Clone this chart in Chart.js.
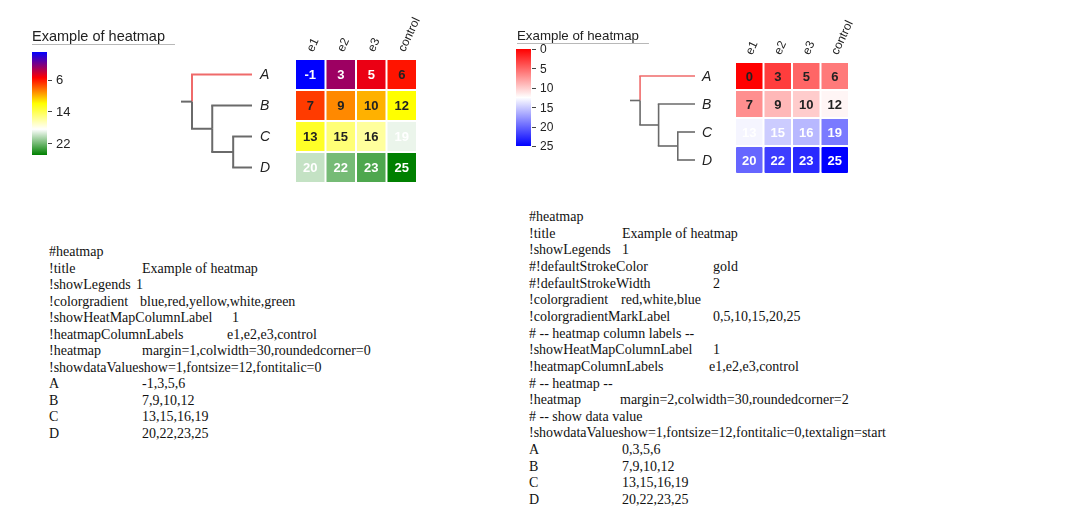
<!DOCTYPE html>
<html><head><meta charset="utf-8">
<script src="https://cdn.jsdelivr.net/npm/chart.js@4.4.1/dist/chart.umd.min.js"></script>
<style>
html,body{margin:0;padding:0;background:#fff;width:1080px;height:514px;overflow:hidden;position:relative}
canvas{position:absolute;top:0}
.t{position:absolute;font-family:"Liberation Serif","Times New Roman",serif;font-size:14px;line-height:16px;color:#111;white-space:pre}
</style></head><body>
<canvas id="c1" width="500" height="200" style="left:0"></canvas>
<canvas id="c2" width="580" height="200" style="left:500px"></canvas>
<div id="txt"></div>
<script>
// ---------- data ----------
const columnLabels = ['e1', 'e2', 'e3', 'control'];
const rowLabels = ['A', 'B', 'C', 'D'];

const leftRowA = [-1, 3, 5, 6];
const leftRowB = [7, 9, 10, 12];
const leftRowC = [13, 15, 16, 19];
const leftRowD = [20, 22, 23, 25];

const rightRowA = [0, 3, 5, 6];
const rightRowB = [7, 9, 10, 12];
const rightRowC = [13, 15, 16, 19];
const rightRowD = [20, 22, 23, 25];

const leftGradient = ['#0000ff', '#ff0000', '#ffff00', '#ffffff', '#008000']; // blue,red,yellow,white,green
const leftRange = [-1, 25];
const leftLegendTicks = [6, 14, 22];

const rightGradient = ['#ff0000', '#ffffff', '#0000ff']; // red,white,blue
const rightRange = [0, 25];
const rightLegendTicks = [0, 5, 10, 15, 20, 25];

const chartTitle = 'Example of heatmap';

// tree: ((A),(B,(C,D))) with relative node depths
const tree = {depth: 0.155, children: [
  {leaf: 'A', highlight: true},
  {depth: 0.44, children: [{leaf: 'B'}, {depth: 0.735, children: [{leaf: 'C'}, {leaf: 'D'}]}]}
]};

// text blocks
const leftTextLines = [
  ['#heatmap'],
  ['!title', 'Example of heatmap'],
  ['!showLegends', '1'],
  ['!colorgradient', 'blue,red,yellow,white,green'],
  ['!showHeatMapColumnLabel', '1'],
  ['!heatmapColumnLabels', 'e1,e2,e3,control'],
  ['!heatmap', 'margin=1,colwidth=30,roundedcorner=0'],
  ['!showdataValueshow=1,fontsize=12,fontitalic=0'],
  ['A', '-1,3,5,6'],
  ['B', '7,9,10,12'],
  ['C', '13,15,16,19'],
  ['D', '20,22,23,25']
];
const rightTextLines = [
  ['#heatmap'],
  ['!title', 'Example of heatmap'],
  ['!showLegends', '1'],
  ['#!defaultStrokeColor', 'gold'],
  ['#!defaultStrokeWidth', '2'],
  ['!colorgradient', 'red,white,blue'],
  ['!colorgradientMarkLabel', '0,5,10,15,20,25'],
  ['# -- heatmap column labels --'],
  ['!showHeatMapColumnLabel', '1'],
  ['!heatmapColumnLabels', 'e1,e2,e3,control'],
  ['# -- heatmap --'],
  ['!heatmap', 'margin=2,colwidth=30,roundedcorner=2'],
  ['# -- show data value'],
  ['!showdataValueshow=1,fontsize=12,fontitalic=0,textalign=start'],
  ['A', '0,3,5,6'],
  ['B', '7,9,10,12'],
  ['C', '13,15,16,19'],
  ['D', '20,22,23,25']
];

// ---------- layout (positions only) ----------
const leftTextX = [0, 142, 136, 140, 232, 227, 142, 0, 142, 142, 142, 142];
const rightTextX = [0, 622, 622, 713, 713, 621, 713, 0, 713, 709, 0, 620, 0, 0, 622, 622, 622, 622];

function placeText(lines, xs, x0, y0, step) {
  const host = document.getElementById('txt');
  lines.forEach((ln, i) => {
    const y = Math.round(y0 + i * step - 8);
    const a = document.createElement('div');
    a.className = 't'; a.style.left = x0 + 'px'; a.style.top = y + 'px'; a.textContent = ln[0];
    host.appendChild(a);
    if (ln.length > 1) {
      const b = document.createElement('div');
      b.className = 't'; b.style.left = xs[i] + 'px'; b.style.top = y + 'px'; b.textContent = ln[1];
      host.appendChild(b);
    }
  });
}
placeText(leftTextLines, leftTextX, 49, 252, 16.5);
placeText(rightTextLines, rightTextX, 529, 217, 16.65);

// ---------- helpers ----------
function hex2rgb(h) { return [1, 3, 5].map(i => parseInt(h.substr(i, 2), 16)); }
function colorAt(stops, range, v) {
  const t = Math.max(0, Math.min(1, (v - range[0]) / (range[1] - range[0])));
  const seg = (stops.length - 1) * t;
  const i = Math.min(stops.length - 2, Math.floor(seg));
  const f = seg - i;
  const a = hex2rgb(stops[i]), b = hex2rgb(stops[i + 1]);
  const c = a.map((x, k) => Math.round(x + (b[k] - x) * f));
  return 'rgb(' + c.join(',') + ')';
}

function heatmapPlugin(cfg) {
  return {
    id: 'heatDecor',
    afterDatasetsDraw(chart) {
      const ctx = chart.ctx;
      const area = chart.chartArea;
      const yS = chart.scales.y, xS = chart.scales.x;
      ctx.save();
      // cell values
      ctx.font = cfg.valueFont;
      ctx.textAlign = 'center'; ctx.textBaseline = 'middle';
      chart.data.datasets.forEach((ds, di) => {
        chart.getDatasetMeta(di).data.forEach((el, j) => {
          const v = ds.values[j];
          const p = el.getCenterPoint();
          ctx.fillStyle = cfg.whiteText(v) ? '#ffffff' : '#222222';
          ctx.fillText(String(v), p.x, p.y + 1);
        });
      });
      // column labels
      ctx.font = cfg.colFont; ctx.fillStyle = '#222';
      ctx.textAlign = 'left'; ctx.textBaseline = 'middle';
      columnLabels.forEach((lab, j) => {
        const cx = xS.getPixelForValue(j);
        ctx.save();
        ctx.translate(cx, area.top - 8);
        ctx.rotate(-Math.PI * 0.36);
        ctx.fillText(lab, 0, 0);
        ctx.restore();
      });
      // dendrogram
      const x0 = area.left - cfg.treeStart, x1 = area.left - cfg.treeEnd;
      const dx = d => x0 + d * (x1 - x0);
      ctx.lineWidth = cfg.treeWidth; ctx.lineCap = 'butt';
      function line(xa, ya, xb, yb, col) {
        ctx.strokeStyle = col; ctx.beginPath(); ctx.moveTo(xa, ya); ctx.lineTo(xb, yb); ctx.stroke();
      }
      function walk(node) {
        if (node.leaf) {
          return {y: yS.getPixelForValue(rowLabels.indexOf(node.leaf) + 0.5), x: x1};
        }
        const xs = dx(node.depth);
        const kids = node.children.map(walk);
        const y = (kids[0].y + kids[kids.length - 1].y) / 2;
        node.children.forEach((c, k) => {
          const col = c.highlight ? cfg.hiColor : cfg.treeColor;
          line(xs, y, xs, kids[k].y, col);
          line(xs - cfg.treeWidth / 2, kids[k].y, kids[k].x, kids[k].y, col);
        });
        return {y: y, x: xs};
      }
      const root = walk(tree);
      line(x0, root.y, root.x, root.y, cfg.treeColor);
      // row labels
      ctx.font = cfg.rowFont; ctx.fillStyle = '#222';
      ctx.textAlign = 'left'; ctx.textBaseline = 'middle';
      rowLabels.forEach((r, i) => ctx.fillText(r, x1 + cfg.rowLabelGap, yS.getPixelForValue(i + 0.5) + 1));
      // legend colour bar
      const L = cfg.legend;
      const g = ctx.createLinearGradient(0, L.y, 0, L.y + L.h);
      cfg.stops.forEach((s, i) => g.addColorStop(i / (cfg.stops.length - 1), s));
      ctx.fillStyle = g; ctx.fillRect(L.x, L.y, L.w, L.h);
      ctx.font = cfg.tickFont; ctx.fillStyle = '#222'; ctx.strokeStyle = '#444'; ctx.lineWidth = 1;
      ctx.textAlign = 'left'; ctx.textBaseline = 'middle';
      cfg.ticks.forEach(t => {
        const ty = L.y + (t - cfg.range[0]) / (cfg.range[1] - cfg.range[0]) * L.h;
        ctx.beginPath(); ctx.moveTo(L.x + L.w + 1, Math.round(ty) + 0.5); ctx.lineTo(L.x + L.w + 5, Math.round(ty) + 0.5); ctx.stroke();
        ctx.fillText(String(t), L.x + L.w + 9, ty + 1);
      });
      // title
      ctx.font = cfg.titleFont; ctx.fillStyle = '#222'; ctx.textBaseline = 'alphabetic';
      ctx.fillText(chartTitle, cfg.title.x, cfg.title.y);
      const w = ctx.measureText(chartTitle).width;
      ctx.strokeStyle = '#b8b8b8'; ctx.lineWidth = 1;
      ctx.beginPath(); ctx.moveTo(cfg.title.x, cfg.title.y + 3.5); ctx.lineTo(cfg.title.x + w + 10, cfg.title.y + 3.5); ctx.stroke();
      ctx.restore();
    }
  };
}

function makeHeatmap(canvasId, rows, stops, range, radius, padding, cfg) {
  const datasets = rows.map((r, i) => ({
    label: rowLabels[i],
    data: columnLabels.map(() => 1),
    values: r,
    backgroundColor: c => colorAt(stops, range, r[c.dataIndex]),
    borderColor: 'rgba(255,255,255,0)',
    borderWidth: 1,
    borderSkipped: false,
    borderRadius: radius,
    inflateAmount: 0,
    categoryPercentage: 1,
    barPercentage: 1,
    stack: 's'
  }));
  cfg.stops = stops; cfg.range = range;
  return new Chart(document.getElementById(canvasId), {
    type: 'bar',
    data: {labels: columnLabels, datasets: datasets},
    options: {
      responsive: false, animation: false, events: [],
      layout: {padding: padding},
      plugins: {legend: {display: false}, tooltip: {enabled: false}, title: {display: false}},
      scales: {
        x: {display: false, stacked: true, offset: true},
        y: {display: false, stacked: true, min: 0, max: rowLabels.length, reverse: true}
      }
    },
    plugins: [heatmapPlugin(cfg)]
  });
}

makeHeatmap('c1', [leftRowA, leftRowB, leftRowC, leftRowD], leftGradient, leftRange, 0,
  {left: 295, top: 59, right: 83, bottom: 17},
  {
    valueFont: 'bold 13px "Liberation Sans", Arial, sans-serif',
    colFont: '12px "Liberation Sans", Arial, sans-serif',
    rowFont: 'italic 14px "Liberation Sans", Arial, sans-serif',
    tickFont: '13px "Liberation Sans", Arial, sans-serif',
    titleFont: '14.5px "Liberation Sans", Arial, sans-serif',
    whiteText: v => v < 5.5 || v > 18.5,
    treeStart: 114, treeEnd: 43, treeWidth: 2, treeColor: '#6a6a6a', hiColor: '#ef6a6a', rowLabelGap: 8,
    legend: {x: 32, y: 52, w: 15, h: 103},
    ticks: leftLegendTicks,
    title: {x: 32, y: 41}
  });

makeHeatmap('c2', [rightRowA, rightRowB, rightRowC, rightRowD], rightGradient, rightRange, 2,
  {left: 235, top: 62, right: 231, bottom: 26},
  {
    valueFont: 'bold 13px "Liberation Sans", Arial, sans-serif',
    colFont: '12px "Liberation Sans", Arial, sans-serif',
    rowFont: 'italic 14px "Liberation Sans", Arial, sans-serif',
    tickFont: '12px "Liberation Sans", Arial, sans-serif',
    titleFont: '13.3px "Liberation Sans", Arial, sans-serif',
    whiteText: v => v > 12.5,
    treeStart: 105, treeEnd: 40, treeWidth: 1.6, treeColor: '#6a6a6a', hiColor: '#ef6a6a', rowLabelGap: 7,
    legend: {x: 16, y: 49, w: 15, h: 97},
    ticks: rightLegendTicks,
    title: {x: 17, y: 40}
  });
</script>
</body></html>
